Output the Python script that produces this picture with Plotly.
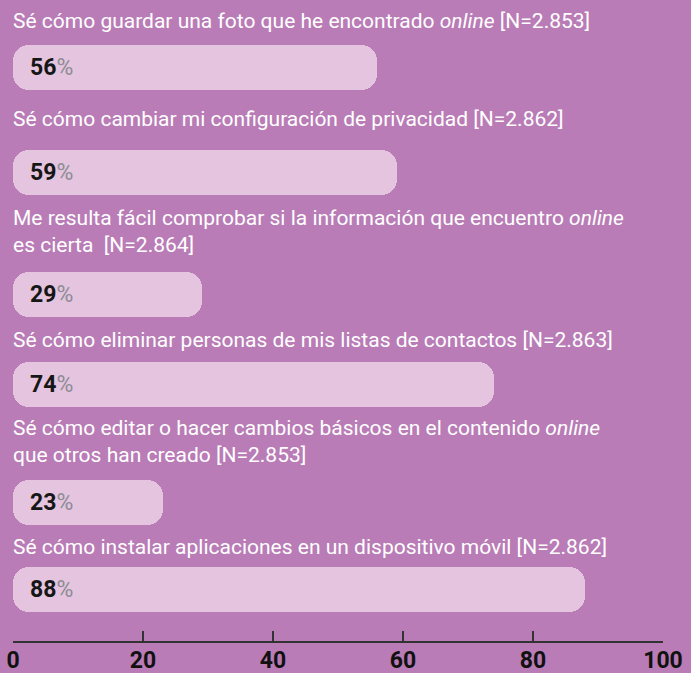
import plotly.graph_objects as go

# ---- data ----
labels = [
    "Sé cómo guardar una foto que he encontrado <i>online</i> [N=2.853]",
    "Sé cómo cambiar mi configuración de privacidad [N=2.862]",
    "Me resulta fácil comprobar si la información que encuentro <i>online</i><br>es cierta  [N=2.864]",
    "Sé cómo eliminar personas de mis listas de contactos [N=2.863]",
    "Sé cómo editar o hacer cambios básicos en el contenido <i>online</i><br>que otros han creado [N=2.853]",
    "Sé cómo instalar aplicaciones en un dispositivo móvil [N=2.862]",
]
values = [56, 59, 29, 74, 23, 88]
tick_values = [0, 20, 40, 60, 80, 100]

# ---- layout constants (pixel-like vertical positions) ----
W, H = 691, 673
M_L, M_R, M_T, M_B = 13, 28, 0, 32
PLOT_H = H - M_T - M_B
row_centers = [67.5, 172.5, 294.5, 384, 502.5, 589]
label_gaps = [15.5, 23, 19, 14, 17, 12]   # baseline-to-bar gap per row
BAR_H = 45
DESCENT = 6

BG = "#b97cb6"
BAR = "#e4c4de"
TXT_FONT = "Roboto, sans-serif"

fig = go.Figure()
# two overlapping half-bars so both ends are rounded
fig.add_trace(go.Bar(
    orientation="h", y=row_centers, x=[v * 0.6 for v in values],
    base=[v * 0.4 for v in values], width=BAR_H,
    marker=dict(color=BAR, cornerradius=16, line_width=0),
    hoverinfo="skip", showlegend=False,
))
fig.add_trace(go.Bar(
    orientation="h", y=row_centers, x=[-v * 0.6 for v in values],
    base=[v * 0.6 for v in values], width=BAR_H,
    marker=dict(color=BAR, cornerradius=16, line_width=0),
    hoverinfo="skip", showlegend=False,
))

annotations = []
for lab, v, yc, gap in zip(labels, values, row_centers, label_gaps):
    annotations.append(dict(
        x=0, y=yc - BAR_H / 2 - (gap - DESCENT), xref="x", yref="y",
        text=lab, showarrow=False, xanchor="left", yanchor="bottom",
        align="left", font=dict(family=TXT_FONT, size=21, color="white"),
        xshift=-2,
    ))
    annotations.append(dict(
        x=0, y=yc, xref="x", yref="y",
        text=f"<b>{v}</b><span style='color:#8d8c95'>%</span>",
        showarrow=False, xanchor="left", yanchor="middle",
        font=dict(family="Roboto, sans-serif", size=23, color="#161616"),
        xshift=15,
    ))

fig.update_layout(
    width=W, height=H,
    margin=dict(l=M_L, r=M_R, t=M_T, b=M_B, pad=0, autoexpand=False),
    paper_bgcolor=BG, plot_bgcolor=BG,
    barmode="overlay", bargap=0,
    annotations=annotations,
    xaxis=dict(
        range=[0, 100], tickvals=tick_values, ticktext=[str(t) for t in tick_values],
        showgrid=False, zeroline=False, showline=True, linecolor="#333333", linewidth=1.5,
        ticks="inside", ticklen=10, tickwidth=1.5, tickcolor="#333333",
        tickfont=dict(family="Roboto, sans-serif", size=23, color="#111111", weight="bold"),
        ticklabelstandoff=-2, automargin=False,
        fixedrange=True,
    ),
    yaxis=dict(range=[PLOT_H, 0], visible=False, fixedrange=True, automargin=False),
)

fig.write_html(
    "out.html",
    config={"displayModeBar": False},
    post_script=f"document.body.style.margin='0';document.body.style.background='{BG}';",
)
